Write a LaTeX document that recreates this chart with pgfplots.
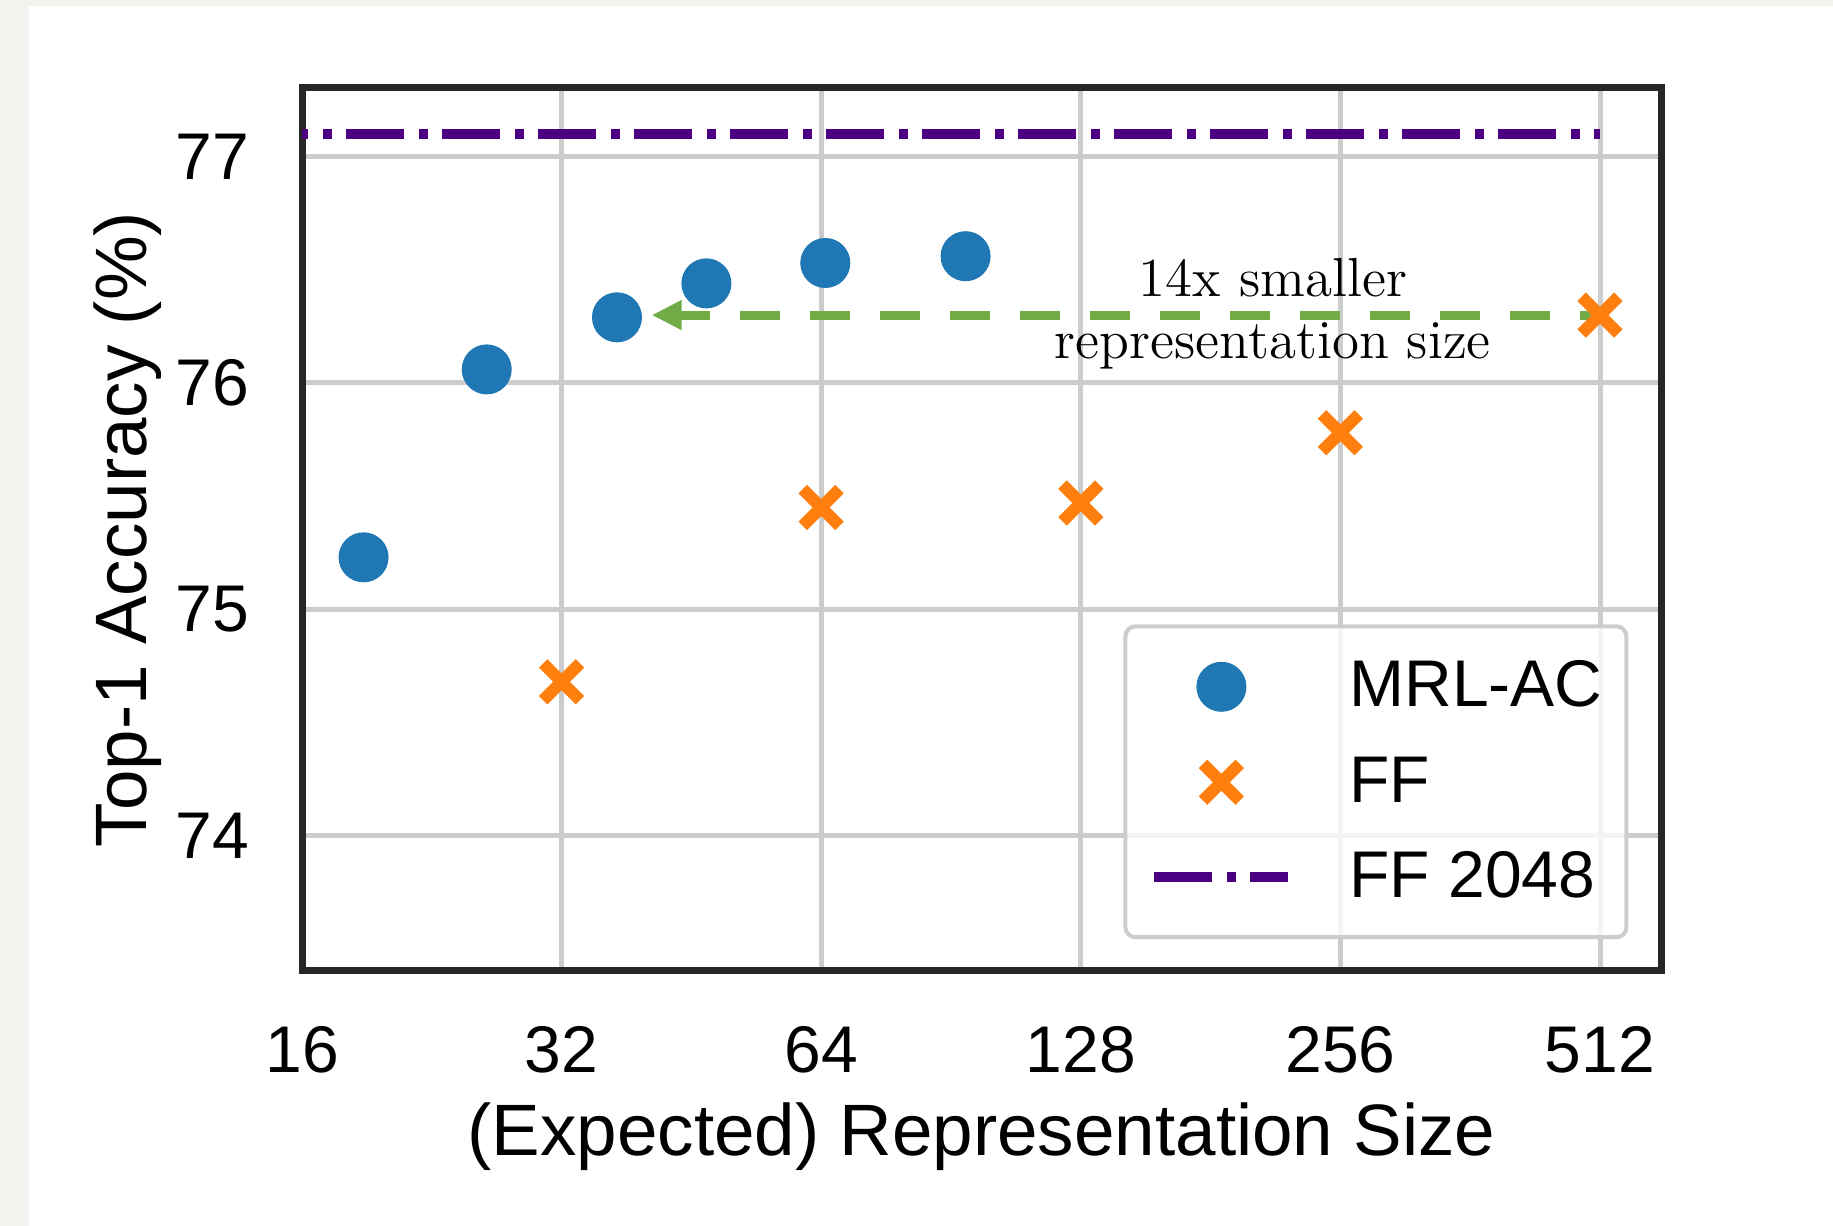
\documentclass[border=0pt]{standalone}
\usepackage{fontspec}
\setsansfont{Liberation Sans}
\usepackage{pgfplots}
\pgfplotsset{compat=1.18}
\usetikzlibrary{arrows.meta}
\definecolor{mplblue}{HTML}{1F77B4}
\definecolor{mplorange}{HTML}{FF7F0E}
\definecolor{ffindigo}{HTML}{4B0082}
\definecolor{arrowgreen}{HTML}{70AD47}
\definecolor{gridgray}{HTML}{CCCCCC}
\definecolor{framegray}{HTML}{262626}
\definecolor{pagegray}{HTML}{F3F2EE}
\pgfplotsset{ffline legend/.style={legend image code/.code={\draw[##1, dash phase=0pt] (0pt,0pt) -- (33.5pt,0pt);}}}
\begin{document}
\begin{tikzpicture}
\path[use as bounding box, fill=pagegray] (-75.5pt,-63.75pt) rectangle (382.75pt,242.75pt);
\fill[white] (-68.25pt,-63.75pt) rectangle (382.75pt,241.25pt);
\begin{axis}[
  at={(0pt,0pt)}, anchor=south west,
  scale only axis, width=339.75pt, height=220.75pt,
  xmode=log, log basis x=2,
  xmin=16, xmax=602.6, ymin=73.403, ymax=77.303,
  xtick={16,32,64,128,256,512}, xticklabels={16,32,64,128,256,512},
  ytick={74,75,76,77}, yticklabels={74,75,76,77},
  major tick length=0pt,
  grid=major, major grid style={line width=1.25pt, draw=gridgray},
  axis line style={line width=1.75pt, draw=framegray},
  /pgf/number format/assume math mode=true,
  tick label style={font=\sffamily\fontsize{16.5}{19}\selectfont},
  xticklabel style={anchor=base, inner sep=0pt, yshift=-25.4pt},
  yticklabel style={anchor=east, inner sep=0pt, xshift=-13pt},
  xlabel={(Expected) Representation Size},
  xlabel style={at={(axis description cs:0.5,-0.2084)}, anchor=base, inner sep=0pt, font=\sffamily\fontsize{18.2}{21}\selectfont},
  ylabel={Top-1 Accuracy (\%)},
  ylabel style={at={(axis description cs:-0.1141,0.5)}, anchor=base, inner sep=0pt, font=\sffamily\fontsize{18.2}{21}\selectfont},
  legend style={at={(axis description cs:0.976,0.036)}, anchor=south east,
    draw=gridgray, line width=1pt, rounded corners=2.5pt,
    fill=white, fill opacity=0.8, draw opacity=1, text opacity=1,
    inner xsep=6pt, inner ysep=9pt, row sep=11.75pt,
    font=\sffamily\fontsize{16.5}{19}\selectfont,
    nodes={inner sep=0pt, text height=11pt, text depth=1pt},
    /tikz/every odd column/.append style={column sep=14pt}},
  legend cell align=left,
  legend image post style={opacity=1, sharp corners},
  legend image code/.code={\path (0pt,0pt) (33.5pt,0pt); \draw[mark repeat=2,mark phase=2,#1] plot coordinates {(0pt,0pt) (16.75pt,0pt) (33.5pt,0pt)};},
]
\addplot[only marks, mark=*, mark size=6.1pt, color=mplblue, mark options={draw=mplblue, fill=mplblue, line width=0.3pt}]
  coordinates {(18.86,75.23) (26.2,76.06) (37.1,76.29) (47.1,76.44) (64.7,76.53) (94.1,76.56)};
\addlegendentry{MRL-AC}
\addplot[forget plot, draw=arrowgreen, line width=2.25pt, dash pattern=on 10pt off 7.5pt, dash phase=2.5pt, {Triangle[length=7.5pt,width=7pt]}-]
  coordinates {(40.7,76.3) (512,76.3)};
\addplot[only marks, mark=x, mark size=6.5pt, color=mplorange, mark options={line width=3pt}]
  coordinates {(32,74.68) (64,75.45) (128,75.47) (256,75.78) (512,76.30)};
\addlegendentry{FF}
\addplot[ffindigo, line width=2.5pt, dash pattern=on 14.5pt off 3.75pt on 2.25pt off 3.5pt, dash phase=13pt, ffline legend]
  coordinates {(16,77.1) (512,77.1)};
\addlegendentry{FF 2048}
\node[anchor=base, inner sep=0pt, font=\fontsize{13.75}{15.5}\selectfont] at (axis cs:213.8,76.384) {14x smaller};
\node[anchor=base, inner sep=0pt, font=\fontsize{13.75}{15.5}\selectfont] at (axis cs:213.8,76.110) {representation size};
\end{axis}
\end{tikzpicture}
\end{document}
